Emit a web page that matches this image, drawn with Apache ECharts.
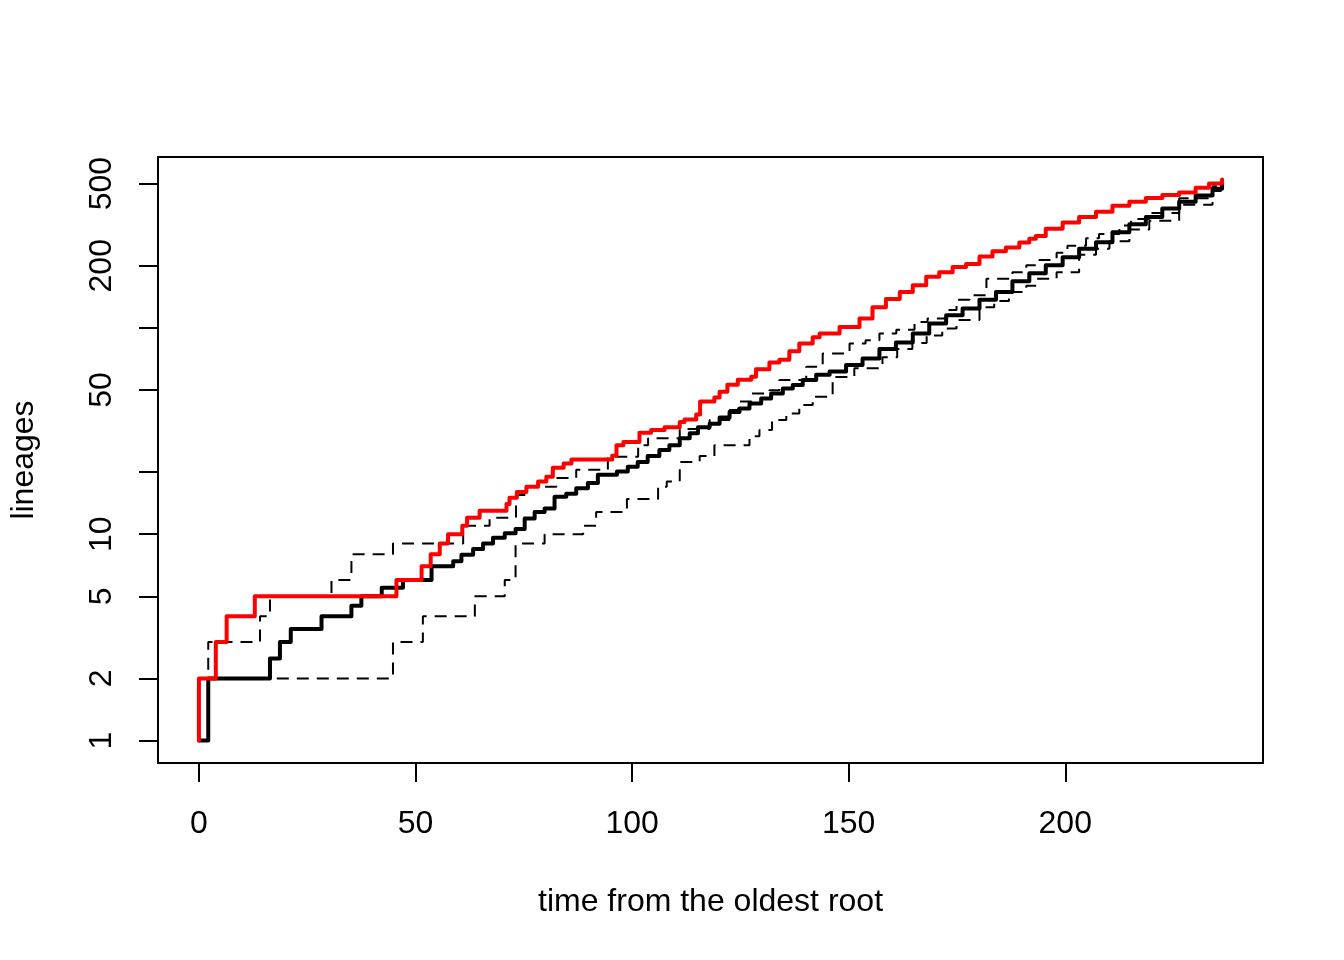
<!DOCTYPE html>
<html>
<head>
<meta charset="utf-8">
<script src="https://cdn.jsdelivr.net/npm/echarts@6/dist/echarts.min.js"></script>
<style>html,body{margin:0;padding:0;background:#fff}#c{width:1344px;height:960px}</style>
</head>
<body>
<div id="c"></div>
<script>
// mean LTT (thick black)
const meanTimes = [0,2.15,16.4,18.7,21.2,28.3,35.2,37.5,42.2,47.1,53.7,58.7,60.6,63.3,65.6,67.9,70.6,73.1,75.2,77.5,79.8,82.1,84.8,87.1,89.8,92.1,96.5,99.0,101.3,103.6,106.3,108.6,111.0,113.3,115.2,117.9,120.2,122.5,124.8,127.1,129.8,132.1,134.8,137.1,139.4,142.5,145.6,149.4,153.2,157.1,160.9,164.8,168.6,172.5,176.3,180.2,184.0,187.8,191.7,195.5,199.4,203.2,207.1,210.9,214.8,218.6,222.4,226.3,230.1,234.0,236.2];
const meanValues = [1,2,2.5,3.0,3.47,4.0,4.5,5.0,5.5,6.0,7.0,7.4,7.95,8.47,9.0,9.6,10.1,10.6,11.9,12.8,13.3,15.2,15.7,16.7,17.7,19.4,20.1,21.2,22.4,23.9,25.6,27.0,29.2,30.8,33,34.3,36.8,39.1,40.6,43.0,45.5,48.0,50.8,52.8,55.9,59.3,61.4,66,71,79,85,94,105,115,124,137,149,168,184,201,220,242,260,291,318,345,379,408,438,472,495];

// upper 95% bound (dashed)
const upperTimes = [0,2.15,14.1,16.4,30.6,35.2,44.8,61.0,67.1,73.2,75.6,82.5,87.1,94.4,101.4,103.7,111.0,117.9,122.5,124.5,127.5,131.7,134.0,140.2,144.0,150.2,153.9,157.1,161.0,165.2,168.2,172.5,174.9,177.9,181.8,187.8,191.0,194.0,198.0,200.5,204.8,207.8,212.5,215.2,219.4,226.3,234.0,236.2];
const upperValues = [1,3,4,5,6,8,9,11,12,15.5,17,18.7,20.5,23.7,27,29.2,32.3,35.8,40,43.9,48,49.8,55.9,64.8,75,84,87,94,98,106.6,111,122,137,144,173,186,201,213,231,250,272,285,313,337,360,425,485,510];

// lower 95% bound (dashed)
const lowerTimes = [0,2.15,44.8,51.7,63.7,70.6,73.1,79.8,88.7,91.7,98.8,106.0,108.0,111.0,115.6,119.0,127.1,129.4,132.3,135.6,138.6,141.7,146.3,151.3,157.8,161.2,164.7,168.0,171.6,174.9,180.2,183.6,187.0,191.0,193.5,198.0,203.2,207.1,210.2,214.8,219.4,226.3,234.0,236.2];
const lowerValues = [1,2,3,4,5,6,9,10,11,12.8,14.8,17,18,22.4,23.9,27,29.8,32,35.8,38.5,42.3,46.4,57.8,63.7,72,79,84.5,91.7,99.4,109,126,135,149,160,173,186,226,242,263,300,330,395,460,490];

// observed tree (red)
const obsTimes = [0,0,3.9,6.4,12.9,45.6,51.4,53.5,55.6,57.5,60.8,61.9,64.8,71.0,71.7,73.4,75.6,78.3,80.2,81.7,84.2,86.0,95.4,96.4,98.0,101.7,104.4,107.5,111.0,112.1,114.8,115.7,119.0,120.2,122.0,124.4,127.5,128.6,131.7,134.0,136.3,138.6,141.7,143.3,147.9,152.5,155.5,158.6,161.8,164.8,167.9,170.9,174.0,177.1,180.2,183.2,186.3,189.4,191.7,193.2,195.5,199.4,203.2,207.1,210.9,214.8,218.6,222.4,226.3,230.1,233.2,236.2];
const obsValues = [1,2,3,4,5,6,7,8,9,10,11,12,13,14,15,16,17,18,19,21,22,23,24,27,28,31,32,33,35,36,38,44,46,49,53,56,58,63,68,70,77,84,90,94,101,111,126,138,149,161,177,186,197,204,222,235,245,259,270,279,302,324,345,365,391,408,426,440,453,477,501,524];

const xTickValues = [0,50,100,150,200];
const yTickValues = [1,2,5,10,20,50,100,200,500];
const yLabelValues = [1,2,5,10,50,200,500];

const pairs = (ts, vs) => ts.map((t, i) => [t, vs[i]]);
const FONT = "'Liberation Sans', Arial, Helvetica, sans-serif";

const chart = echarts.init(document.getElementById('c'), null, {renderer: 'canvas'});
chart.setOption({
  animation: false,
  backgroundColor: '#ffffff',
  grid: {left: 157, top: 157, width: 1106, height: 606, show: true, borderColor: '#000', borderWidth: 2, backgroundColor: 'transparent', containLabel: false},
  xAxis: {
    type: 'value', min: -9.45, max: 245.65,
    name: 'time from the oldest root', nameLocation: 'middle', nameGap: 123,
    nameTextStyle: {fontFamily: FONT, fontSize: 32, color: '#000'},
    axisLine: {show: false, onZero: false},
    splitLine: {show: false},
    axisTick: {show: true, length: 19, lineStyle: {color: '#000', width: 2}, customValues: xTickValues},
    axisLabel: {fontFamily: FONT, fontSize: 32, color: '#000', margin: 45, customValues: xTickValues}
  },
  yAxis: {
    type: 'log', logBase: 10, min: 0.778, max: 673,
    name: 'lineages', nameLocation: 'middle', nameGap: 118,
    nameTextStyle: {fontFamily: FONT, fontSize: 32, color: '#000'},
    axisLine: {show: false, onZero: false},
    splitLine: {show: false},
    axisTick: {show: true, length: 19, lineStyle: {color: '#000', width: 2}, customValues: yTickValues},
    axisLabel: {fontFamily: FONT, fontSize: 32, color: '#000', margin: 40, rotate: 90, customValues: yLabelValues,
      formatter: v => String(Math.round(v))}
  },
  series: [
    {type: 'line', step: 'end', symbol: 'none', data: pairs(upperTimes, upperValues),
      lineStyle: {color: '#000', width: 2, type: [12, 8]}},
    {type: 'line', step: 'end', symbol: 'none', data: pairs(lowerTimes, lowerValues),
      lineStyle: {color: '#000', width: 2, type: [12, 8]}},
    {type: 'line', step: 'end', symbol: 'none', data: pairs(meanTimes, meanValues),
      lineStyle: {color: '#000', width: 4, cap: 'round', join: 'round'}},
    {type: 'line', step: 'end', symbol: 'none', data: pairs(obsTimes, obsValues),
      lineStyle: {color: '#ff0000', width: 4, cap: 'round', join: 'round'}}
  ]
});
</script>
</body>
</html>
